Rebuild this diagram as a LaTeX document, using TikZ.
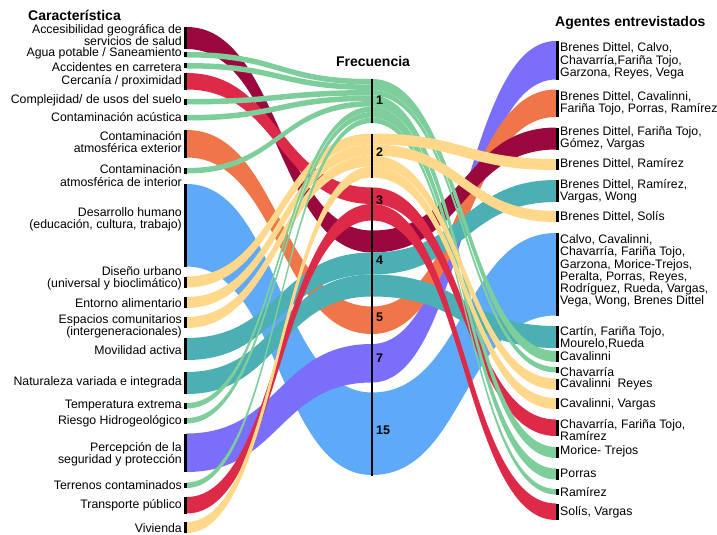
\documentclass[tikz,border=0pt]{standalone}
\usepackage{fontspec}
\setmainfont{Liberation Sans}
\usepackage{xcolor}
\definecolor{fblue}{RGB}{95,170,248}
\definecolor{fpurple}{RGB}{122,110,250}
\definecolor{forange}{RGB}{240,117,72}
\definecolor{fmaroon}{RGB}{155,8,62}
\definecolor{fteal}{RGB}{75,175,180}
\definecolor{fred}{RGB}{220,42,72}
\definecolor{fgreen}{RGB}{126,206,156}
\definecolor{fyellow}{RGB}{255,216,140}
% flows: colour, top at first axis, top at second axis, count
\newcommand{\lflow}[4]{\fill[#1] (186.5,#2) .. controls (279.25,#2) and (279.25,#3) .. (372,#3) -- (372,{#3+5.5*#4}) .. controls (279.25,{#3+5.5*#4}) and (279.25,{#2+5.5*#4}) .. (186.5,{#2+5.5*#4}) -- cycle;}
\newcommand{\rflow}[4]{\fill[#1] (372,#2) .. controls (464,#2) and (464,#3) .. (556,#3) -- (556,{#3+5.5*#4}) .. controls (464,{#3+5.5*#4}) and (464,{#2+5.5*#4}) .. (372,{#2+5.5*#4}) -- cycle;}
\newcommand{\lbar}[2]{\fill (184,#1) rectangle (186.5,{#1+5.5*#2});}
\newcommand{\rbar}[2]{\fill (556,#1) rectangle (558.5,{#1+5.5*#2});}

\begin{document}
\begin{tikzpicture}[x=1pt,y=-1pt]
	\tikzset{ttl/.style={font=\bfseries\fontsize{14}{16}\selectfont, inner sep=0}}
	\tikzset{lab/.style={font=\fontsize{12.3}{12.3}\selectfont, inner sep=0}}
	\tikzset{num/.style={font=\bfseries\fontsize{12.5}{14}\selectfont, inner sep=0, anchor=west}}
	\useasboundingbox (0,0) rectangle (717,535);

	% left half
	\lflow{fblue}{184}{392.5}{15}
	\lflow{forange}{130}{306.5}{5}
	\lflow{fmaroon}{27}{230.5}{4}
	\lflow{fteal}{338}{252.5}{4}
	\lflow{fteal}{372}{274.5}{4}
	\lflow{fpurple}{433.5}{344}{7}
	\lflow{fred}{73}{187.5}{3}
	\lflow{fred}{497}{204}{3}
	\foreach \a/\b in {276.5/133.5, 297/144.5, 317/155.5, 522/166.5}
		{\lflow{fyellow}{\a}{\b}{2}}
	\foreach \a/\b in {52/79, 63/84.5, 99/90, 115/95.5, 168/101, 403/106.5, 418/112, 482.5/117.5}
		{\lflow{fgreen}{\a}{\b}{1}}

	% right half
	\rflow{fblue}{392.5}{233}{15}
	\rflow{fpurple}{344}{41}{7}
	\rflow{forange}{306.5}{89.5}{5}
	\rflow{fmaroon}{230.5}{127.5}{4}
	\rflow{fteal}{252.5}{180}{4}
	\rflow{fteal}{274.5}{326}{4}
	\rflow{fred}{187.5}{419.5}{3}
	\rflow{fred}{204}{503.5}{3}
	\foreach \a/\b/\n in {79/351/2, 90/367/1, 95.5/447/2, 106.5/468.5/2, 117.5/489/1}
		{\rflow{fgreen}{\a}{\b}{\n}}
	\foreach \a/\b in {133.5/159, 144.5/211, 155.5/378.5, 166.5/398}
		{\rflow{fyellow}{\a}{\b}{2}}

	% axes
	\foreach \a/\n in {27/4, 52/1, 63/1, 73/3, 99/1, 115/1, 130/5, 168/1, 184/15, 276.5/2, 297/2, 317/2, 338/4, 372/4, 403/1, 418/1, 433.5/7, 482.5/1, 497/3, 522/2}
		{\lbar{\a}{\n}}
	\foreach \a/\n in {41/7, 89.5/5, 127.5/4, 159/2, 180/4, 211/2, 233/15, 326/4, 351/2, 367/1, 378.5/2, 398/2, 419.5/3, 447/2, 468.5/2, 489/1, 503.5/3}
		{\rbar{\a}{\n}}
	\draw[line width=1.2pt] (372,79) -- (372,123);
	\draw[line width=1.2pt] (372,133.5) -- (372,177.5);
	\draw[line width=1.2pt] (372,187.5) -- (372,476);

	\node[ttl, anchor=west] (caracteristica) at (28,15) {Característica};
	\node[ttl] (frecuencia) at (373,61) {Frecuencia};
	\node[ttl, anchor=west] (agentes) at (555,23) {Agentes entrevistados};

	\node[num] (f1) at (376,100) {1};
	\node[num] (f2) at (376,152) {2};
	\node[num] (f3) at (376,200) {3};
	\node[num] (f4) at (376,260) {4};
	\node[num] (f5) at (376,317) {5};
	\node[num] (f7) at (376,358) {7};
	\node[num] (f15) at (376,430) {15};

	\tikzset{lab/.append style={anchor=east, align=right}}
	\node[lab] (accesibilidad) at (182,35) {Accesibilidad geográfica de\\servicios de salud};
	\node[lab] (agua) at (182,53.5) {Agua potable / Saneamiento};
	\node[lab] (accidentes) at (182,67) {Accidentes en carretera};
	\node[lab] (cercania) at (182,81) {Cercanía / proximidad};
	\node[lab] (complejidad) at (182,100) {Complejidad/ de usos del suelo};
	\node[lab] (acustica) at (182,117) {Contaminación acústica};
	\node[lab] (exterior) at (182,142) {Contaminación\\atmosférica exterior};
	\node[lab] (interior) at (182,175.5) {Contaminación\\atmosférica de interior};
	\node[lab] (desarrollo) at (182,219) {Desarrollo humano\\(educación, cultura, trabajo)};
	\node[lab] (diseno) at (182,278.5) {Diseño urbano\\(universal y bioclimático)};
	\node[lab] (entorno) at (182,303) {Entorno alimentario};
	\node[lab] (espacios) at (182,326.5) {Espacios comunitarios\\(intergeneracionales)};
	\node[lab] (movilidad) at (182,350) {Movilidad activa};
	\node[lab] (naturaleza) at (182,382) {Naturaleza variada e integrada};
	\node[lab] (temperatura) at (182,406) {Temperatura extrema};
	\node[lab] (riesgo) at (182,421) {Riesgo Hidrogeológico};
	\node[lab] (percepcion) at (182,454) {Percepción de la\\seguridad y protección};
	\node[lab] (terrenos) at (182,485) {Terrenos contaminados};
	\node[lab] (transporte) at (182,505) {Transporte público};
	\node[lab] (vivienda) at (182,528.5) {Vivienda};

	\tikzset{lab/.append style={anchor=west, align=left}}
	\node[lab] (a1) at (560,61) {Brenes Dittel, Calvo,\\Chavarría,Fariña Tojo,\\Garzona, Reyes, Vega};
	\node[lab] (a2) at (560,103) {Brenes Dittel, Cavalinni,\\Fariña Tojo, Porras, Ramírez};
	\node[lab] (a3) at (560,138) {Brenes Dittel, Fariña Tojo,\\Gómez, Vargas};
	\node[lab] (a4) at (560,164) {Brenes Dittel, Ramírez};
	\node[lab] (a5) at (560,191) {Brenes Dittel, Ramírez,\\Vargas, Wong};
	\node[lab] (a6) at (560,217) {Brenes Dittel, Solís};
	\node[lab] (a7) at (560,271) {Calvo, Cavalinni,\\Chavarría, Fariña Tojo,\\Garzona, Morice-Trejos,\\Peralta, Porras, Reyes,\\Rodríguez, Rueda, Vargas,\\Vega, Wong, Brenes Dittel};
	\node[lab] (a8) at (560,338) {Cartín, Fariña Tojo,\\Mourelo,Rueda};
	\node[lab] (a9) at (560,356) {Cavalinni};
	\node[lab] (a10) at (560,372) {Chavarría};
	\node[lab] (a11) at (560,384) {Cavalinni\ \ Reyes};
	\node[lab] (a12) at (560,404) {Cavalinni, Vargas};
	\node[lab] (a13) at (560,430) {Chavarría, Fariña Tojo,\\Ramírez};
	\node[lab] (a14) at (560,451) {Morice- Trejos};
	\node[lab] (a15) at (560,473) {Porras};
	\node[lab] (a16) at (560,492) {Ramírez};
	\node[lab] (a17) at (560,512) {Solís, Vargas};
\end{tikzpicture}
\end{document}
